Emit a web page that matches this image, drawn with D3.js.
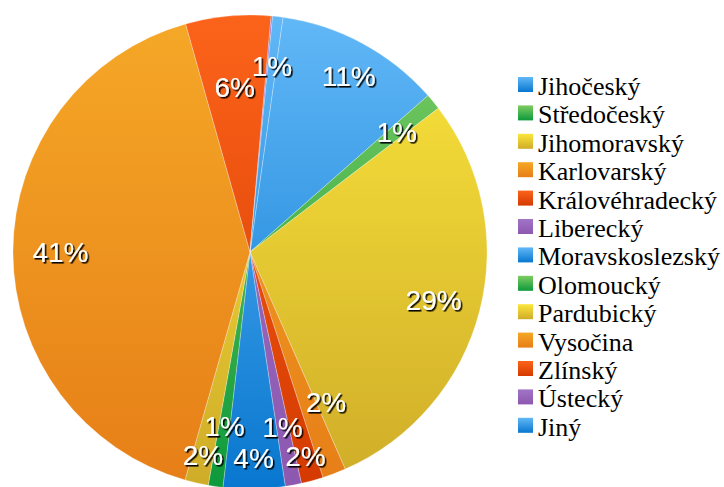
<!DOCTYPE html>
<html>
<head>
<meta charset="utf-8">
<script src="https://cdn.jsdelivr.net/npm/d3@7"></script>
<style>
  body { margin: 0; background: #fff; }
  .leg text { font-family: "Times New Roman", "Liberation Serif", Tinos, "Nimbus Roman", "DejaVu Serif", serif; }
  .lbl { font-family: "Liberation Sans", Arial, Helvetica, sans-serif; }
</style>
</head>
<body>
<div id="chart"></div>
<script>
// kraje + podil v procentech
var kraje = ["Jihočeský", "Středočeský", "Jihomoravský", "Karlovarský", "Královéhradecký",
  "Liberecký", "Moravskoslezský", "Olomoucký", "Pardubický", "Vysočina", "Zlínský", "Ústecký", "Jiný"];
var podil = [11.3, 1.1, 28.8, 1.6, 1.5, 1.1, 4.2, 1.0, 1.6, 41.2, 5.8, 0.1, 0.7];

// barvy (svetla nahore, tmava dole)
var barvyTop = ["#62b8f7", "#7fcc62", "#fbe63c", "#f5a827", "#fc631a", "#a074c6"];
var barvyBottom = ["#0877cf", "#0c9a3c", "#cfac28", "#e67e17", "#d43a00", "#8d58b0"];

// posun popisku (kvuli prekryvani malych vysecu)
var popisR = [0.85, 0.8, 0.8, 0.71, 0.89, 0.75, 0.87, 0.74, 0.88, 0.8, 0.7, 0.8, 0.79];
var popisUhel = [1, 0, 0, -6, 0, 0, 0, 0, 0, 0, 0, 0, 0];

var width = 724, height = 487;
var cx = 250, cy = 252, r = 237;

var svg = d3.select("#chart")
  .append("svg")
    .attr("width", width)
    .attr("height", height);

var defs = svg.append("defs");

barvyTop.forEach(function(c, i){
  var g = defs.append("linearGradient")
    .attr("id", "grad" + i)
    .attr("gradientUnits", "userSpaceOnUse")
    .attr("x1", 0).attr("y1", -r)
    .attr("x2", 0).attr("y2", r);
  g.append("stop").attr("offset", "0%").attr("stop-color", c);
  g.append("stop").attr("offset", "100%").attr("stop-color", barvyBottom[i]);

  var gl = defs.append("linearGradient")
    .attr("id", "lgrad" + i)
    .attr("x1", 0).attr("y1", 0)
    .attr("x2", 0).attr("y2", 1);
  gl.append("stop").attr("offset", "0%").attr("stop-color", c);
  gl.append("stop").attr("offset", "100%").attr("stop-color", barvyBottom[i]);
});

var stin = defs.append("filter").attr("id", "stin")
  .attr("x", "-20%").attr("y", "-20%").attr("width", "150%").attr("height", "150%");
stin.append("feDropShadow")
  .attr("dx", 1.6).attr("dy", 1.6)
  .attr("stdDeviation", 0.6)
  .attr("flood-color", "#000")
  .attr("flood-opacity", 0.95);

var data = kraje.map(function(k, i){ return {kraj: k, v: podil[i], i: i}; });
var total = d3.sum(podil);

var start = 8 * Math.PI / 180;
var pie = d3.pie()
  .sort(null)
  .value(function(d){ return d.v; })
  .startAngle(start)
  .endAngle(start + 2 * Math.PI);

var arc = d3.arc().innerRadius(0).outerRadius(r);

var g = svg.append("g").attr("transform", "translate(" + cx + "," + cy + ")");

var arcs = pie(data);

g.selectAll("path")
  .data(arcs)
  .enter()
  .append("path")
    .attr("d", arc)
    .attr("fill", function(d){ return "url(#grad" + (d.data.i % 6) + ")"; })
    .attr("stroke", "rgba(255,255,255,0.45)")
    .attr("stroke-width", 0.6);

g.selectAll("text.lbl")
  .data(arcs.filter(function(d){ return d.data.v / total >= 0.005; }))
  .enter()
  .append("text")
    .attr("class", "lbl")
    .attr("transform", function(d){
      var a = (d.startAngle + d.endAngle) / 2 + popisUhel[d.data.i] * Math.PI / 180;
      var rr = r * popisR[d.data.i];
      return "translate(" + (Math.sin(a) * rr) + "," + (-Math.cos(a) * rr) + ")";
    })
    .attr("text-anchor", "middle")
    .attr("dy", "0.36em")
    .attr("filter", "url(#stin)")
    .style("font-size", "28px")
    .style("fill", "#fff")
    .text(function(d){ return Math.round(d.data.v / total * 100) + "%"; });

// legenda
var leg = svg.append("g").attr("class", "leg").attr("transform", "translate(518,95)");
var radky = leg.selectAll("g")
  .data(data)
  .enter()
  .append("g")
    .attr("transform", function(d, i){ return "translate(0," + (i * 28.4) + ")"; });

radky.append("rect")
  .attr("x", 0)
  .attr("y", -18)
  .attr("width", 15)
  .attr("height", 15)
  .attr("fill", function(d){ return "url(#lgrad" + (d.i % 6) + ")"; });

radky.append("text")
  .attr("x", 20)
  .attr("y", 0)
  .style("font-size", "26px")
  .style("fill", "#000")
  .text(function(d){ return d.kraj; });
</script>
</body>
</html>
